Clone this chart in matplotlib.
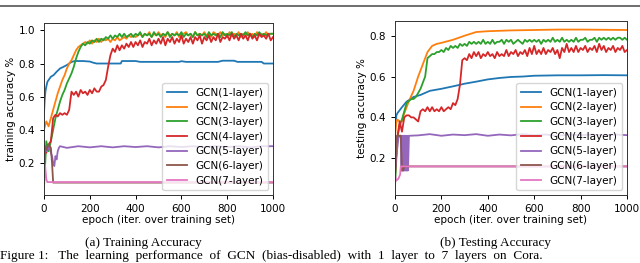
import numpy as np
import matplotlib
matplotlib.use("Agg")
import matplotlib.pyplot as plt

labels = ["GCN(1-layer)", "GCN(2-layer)", "GCN(3-layer)", "GCN(4-layer)",
          "GCN(5-layer)", "GCN(6-layer)", "GCN(7-layer)"]

# dense grid for the noisy curves (every 10 epochs)
ep10 = np.arange(0, 1001, 10)

# ---------------- training accuracy ----------------
tr1_ep = [0, 3, 6, 10, 15, 20, 30, 42, 55, 70, 85, 99, 110, 121, 135, 150, 170,
          200, 215, 230, 300, 335, 340, 400, 420, 590, 600, 620, 760, 780, 830,
          845, 950, 960, 1000]
tr1 = [0.50, 0.58, 0.63, 0.66, 0.69, 0.70, 0.72, 0.73, 0.75, 0.77, 0.78, 0.79,
       0.80, 0.81, 0.815, 0.815, 0.815, 0.812, 0.805, 0.80, 0.80, 0.80, 0.815,
       0.815, 0.81, 0.81, 0.814, 0.81, 0.81, 0.817, 0.817, 0.81, 0.81, 0.80, 0.80]

tr2 = [0.40, 0.45, 0.42, 0.47, 0.52, 0.57, 0.62, 0.66, 0.70, 0.73,
       0.77, 0.80, 0.82, 0.85, 0.88, 0.90, 0.91, 0.92, 0.93, 0.92,
       0.94, 0.92, 0.94, 0.93, 0.95, 0.93, 0.95, 0.94, 0.95, 0.93,
       0.95, 0.94, 0.96, 0.94, 0.95, 0.96, 0.95, 0.97, 0.96, 0.97,
       0.96, 0.97, 0.98, 0.96, 0.98, 0.97, 0.99, 0.96, 0.98, 0.97,
       0.99, 0.97, 0.98, 0.96, 0.99, 0.97, 0.98, 0.97, 0.99, 0.96,
       0.98, 0.98, 0.99, 0.97, 0.98, 0.96, 0.99, 0.97, 0.98, 0.97,
       0.99, 0.97, 0.98, 0.96, 0.99, 0.98, 0.97, 0.99, 0.97, 0.98,
       0.96, 0.99, 0.97, 0.98, 0.97, 0.99, 0.96, 0.98, 0.97, 0.99,
       0.97, 0.98, 0.96, 0.99, 0.97, 0.98, 0.97, 0.99, 0.97, 0.98,
       0.98]

tr3 = [0.05, 0.33, 0.27, 0.33, 0.40, 0.47, 0.52, 0.57, 0.61, 0.64,
       0.68, 0.71, 0.74, 0.78, 0.83, 0.87, 0.90, 0.92, 0.91, 0.93,
       0.92, 0.94, 0.93, 0.95, 0.93, 0.95, 0.94, 0.96, 0.95, 0.97,
       0.95, 0.97, 0.96, 0.98, 0.96, 0.98, 0.96, 0.97, 0.98, 0.96,
       0.98, 0.97, 0.99, 0.96, 0.98, 0.97, 0.98, 0.96, 0.99, 0.97,
       0.98, 0.96, 0.98, 0.97, 0.99, 0.96, 0.98, 0.97, 0.98, 0.97,
       0.99, 0.96, 0.98, 0.97, 0.98, 0.96, 0.99, 0.97, 0.98, 0.97,
       0.98, 0.96, 0.99, 0.97, 0.98, 0.97, 0.98, 0.96, 0.99, 0.97,
       0.98, 0.97, 0.99, 0.96, 0.98, 0.97, 0.98, 0.97, 0.99, 0.97,
       0.98, 0.96, 0.98, 0.97, 0.99, 0.97, 0.98, 0.97, 0.98, 0.98,
       0.98]

tr4 = [0.30, 0.26, 0.31, 0.33, 0.47, 0.49, 0.48, 0.50, 0.49, 0.50,
       0.49, 0.52, 0.63, 0.61, 0.63, 0.60, 0.64, 0.62, 0.63, 0.61,
       0.64, 0.62, 0.65, 0.63, 0.63, 0.66, 0.67, 0.70, 0.78, 0.85,
       0.89, 0.87, 0.91, 0.88, 0.91, 0.89, 0.92, 0.90, 0.93, 0.90,
       0.93, 0.91, 0.94, 0.90, 0.93, 0.92, 0.95, 0.91, 0.94, 0.92,
       0.95, 0.92, 0.96, 0.91, 0.95, 0.93, 0.96, 0.92, 0.95, 0.93,
       0.97, 0.92, 0.95, 0.93, 0.96, 0.92, 0.96, 0.94, 0.97, 0.92,
       0.96, 0.94, 0.97, 0.93, 0.96, 0.94, 0.98, 0.93, 0.96, 0.95,
       0.97, 0.94, 0.98, 0.95, 0.97, 0.94, 0.98, 0.95, 0.97, 0.94,
       0.98, 0.95, 0.97, 0.94, 0.98, 0.96, 0.97, 0.95, 0.98, 0.94,
       0.96]

tr5_ep = [0, 5, 10, 15, 20, 25, 30, 35, 40, 45, 50, 55, 60, 65, 70, 100, 150,
          200, 250, 300, 350, 400, 450, 500, 550, 600, 650, 700, 750, 800, 850,
          900, 950, 1000]
tr5 = [0.25, 0.29, 0.27, 0.30, 0.28, 0.30, 0.26, 0.24, 0.20, 0.18, 0.24, 0.22,
       0.27, 0.29, 0.30, 0.29, 0.30, 0.293, 0.30, 0.293, 0.30, 0.295, 0.30,
       0.293, 0.30, 0.295, 0.30, 0.293, 0.30, 0.295, 0.30, 0.293, 0.30, 0.30]

tr6_ep = [0, 5, 10, 20, 30, 35, 40, 1000]
tr6 = [0.22, 0.30, 0.28, 0.31, 0.29, 0.20, 0.08, 0.08]

tr7_ep = [0, 5, 10, 15, 1000]
tr7 = [0.20, 0.18, 0.10, 0.083, 0.083]

# ---------------- testing accuracy ----------------
te1_ep = [0, 3, 6, 10, 20, 30, 50, 80, 110, 150, 200, 250, 300, 350, 400, 450,
          500, 550, 600, 700, 800, 900, 1000]
te1 = [0.33, 0.38, 0.41, 0.42, 0.435, 0.45, 0.477, 0.50, 0.51, 0.53, 0.54,
       0.552, 0.565, 0.575, 0.586, 0.593, 0.598, 0.60, 0.604, 0.606, 0.606,
       0.607, 0.606]

te2_ep = [0, 5, 10, 20, 30, 40, 50, 60, 80, 100, 120, 140, 160, 180, 200, 250,
          300, 350, 400, 500, 600, 700, 800, 900, 1000]
te2 = [0.30, 0.37, 0.39, 0.38, 0.38, 0.42, 0.45, 0.48, 0.53, 0.60, 0.66, 0.72,
       0.75, 0.76, 0.765, 0.78, 0.80, 0.818, 0.822, 0.826, 0.828, 0.83, 0.83,
       0.829, 0.828]

te3 = [0.06, 0.30, 0.36, 0.39, 0.43, 0.47, 0.48, 0.49, 0.49, 0.50,
       0.52, 0.54, 0.57, 0.60, 0.69, 0.70, 0.71, 0.71, 0.72, 0.72,
       0.73, 0.72, 0.74, 0.73, 0.75, 0.74, 0.75, 0.74, 0.76, 0.75,
       0.76, 0.75, 0.77, 0.76, 0.77, 0.76, 0.77, 0.76, 0.78, 0.76,
       0.77, 0.76, 0.78, 0.76, 0.77, 0.77, 0.78, 0.76, 0.78, 0.77,
       0.78, 0.76, 0.77, 0.78, 0.77, 0.76, 0.78, 0.77, 0.78, 0.77,
       0.78, 0.77, 0.78, 0.76, 0.78, 0.77, 0.78, 0.77, 0.79, 0.77,
       0.78, 0.77, 0.79, 0.77, 0.78, 0.77, 0.78, 0.77, 0.79, 0.77,
       0.78, 0.78, 0.79, 0.77, 0.78, 0.78, 0.79, 0.77, 0.79, 0.78,
       0.79, 0.78, 0.79, 0.78, 0.79, 0.78, 0.79, 0.79, 0.78, 0.79,
       0.78]

te4 = [0.12, 0.30, 0.38, 0.33, 0.40, 0.41, 0.41, 0.40, 0.40, 0.39,
       0.38, 0.43, 0.44, 0.43, 0.45, 0.43, 0.45, 0.43, 0.44, 0.43,
       0.45, 0.43, 0.44, 0.45, 0.44, 0.47, 0.46, 0.49, 0.56, 0.68,
       0.69, 0.68, 0.71, 0.69, 0.72, 0.70, 0.72, 0.69, 0.71, 0.70,
       0.72, 0.70, 0.71, 0.69, 0.72, 0.70, 0.71, 0.70, 0.73, 0.70,
       0.72, 0.71, 0.73, 0.70, 0.72, 0.71, 0.73, 0.70, 0.74, 0.71,
       0.75, 0.71, 0.73, 0.71, 0.74, 0.71, 0.73, 0.72, 0.74, 0.71,
       0.73, 0.69, 0.74, 0.72, 0.76, 0.72, 0.74, 0.72, 0.75, 0.72,
       0.74, 0.73, 0.75, 0.72, 0.74, 0.73, 0.75, 0.72, 0.76, 0.73,
       0.75, 0.72, 0.74, 0.73, 0.75, 0.72, 0.74, 0.73, 0.75, 0.72,
       0.73]

te5_ep = [0, 5, 10, 15, 20, 26, 28, 30, 32, 34, 36, 38, 40, 42, 44, 46, 48, 50,
          52, 54, 56, 60, 100, 150, 200, 250, 300, 350, 400, 450, 500, 550,
          600, 650, 700, 750, 800, 850, 900, 950, 1000]
te5 = [0.14, 0.20, 0.25, 0.30, 0.31, 0.31, 0.14, 0.31, 0.14, 0.31, 0.14, 0.31,
       0.14, 0.31, 0.14, 0.31, 0.14, 0.31, 0.14, 0.31, 0.14, 0.31, 0.312,
       0.318, 0.31, 0.316, 0.313, 0.318, 0.31, 0.316, 0.312, 0.318, 0.313,
       0.316, 0.31, 0.316, 0.313, 0.316, 0.312, 0.316, 0.313]

te6_ep = [0, 5, 8, 25, 30, 35, 40, 1000]
te6 = [0.10, 0.25, 0.31, 0.31, 0.14, 0.14, 0.16, 0.16]

te7_ep = [0, 5, 15, 22, 25, 1000]
te7 = [0.12, 0.09, 0.10, 0.12, 0.16, 0.16]

fig = plt.figure(figsize=(6.4, 2.63), dpi=100)
H = 263.0
W = 640.0
ax1 = fig.add_axes([44 / W, 68 / H, 229 / W, 172 / H])
ax2 = fig.add_axes([395 / W, 68 / H, 232 / W, 174 / H])

fs = 7.5
lw = 1.3

train = [(tr1_ep, tr1), (ep10, tr2), (ep10, tr3), (ep10, tr4),
         (tr5_ep, tr5), (tr6_ep, tr6), (tr7_ep, tr7)]
test = [(te1_ep, te1), (te2_ep, te2), (ep10, te3), (ep10, te4),
        (te5_ep, te5), (te6_ep, te6), (te7_ep, te7)]

for ax, series, ylab, ylim, yt in [
        (ax1, train, "training accuracy %", (0.005, 1.045), [0.2, 0.4, 0.6, 0.8, 1.0]),
        (ax2, test, "testing accuracy %", (0.02, 0.872), [0.2, 0.4, 0.6, 0.8])]:
    for i, (x, y) in enumerate(series):
        ax.plot(x, y, color="C%d" % i, lw=lw, label=labels[i])
    ax.set_xlim(0, 1000)
    ax.set_ylim(*ylim)
    ax.set_yticks(yt)
    ax.set_xticks([0, 200, 400, 600, 800, 1000])
    ax.tick_params(labelsize=fs, length=3, width=0.7)
    ax.set_xlabel("epoch (iter. over training set)", fontsize=fs, labelpad=1)
    ax.set_ylabel(ylab, fontsize=fs, labelpad=2)
    for s in ax.spines.values():
        s.set_linewidth(0.7)
        s.set_color("#333333")
    ax.legend(loc="lower right", fontsize=fs, handlelength=2.0,
              labelspacing=0.45, borderpad=0.4, handletextpad=0.8)

serif = "Liberation Serif"
fig.text(143.5 / W, 1 - 243 / H, "(a) Training Accuracy", family=serif,
         fontsize=9.5, ha="center", va="center")
fig.text(495.5 / W, 1 - 243 / H, "(b) Testing Accuracy", family=serif,
         fontsize=9.5, ha="center", va="center")
fig.text(0.0, 4 / H, "Figure 1:   The  learning  performance  of  GCN  (bias-disabled)  "
         "with  1  layer  to  7  layers  on  Cora.", family=serif, fontsize=9.5,
         ha="left", va="baseline")
fig.add_artist(plt.Line2D([0, 1], [1 - 5.5 / H, 1 - 5.5 / H],
                          transform=fig.transFigure, color="#555555", lw=1.2))

fig.savefig("out.png", dpi=100)
